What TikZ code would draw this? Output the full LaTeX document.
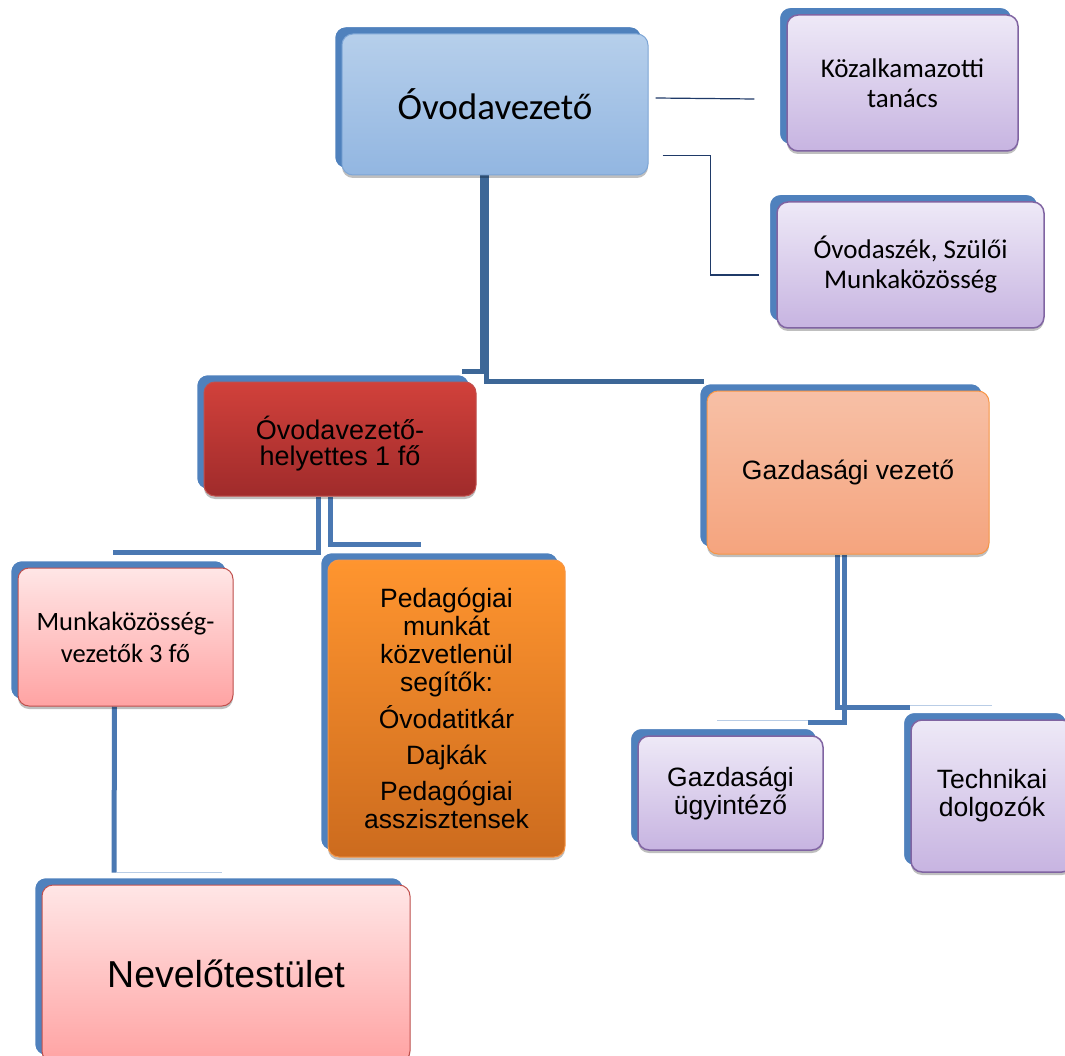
\documentclass[tikz,border=0pt]{standalone}
\usepackage{fontspec}
\setmainfont{Liberation Sans}
\newfontfamily\calfont{Carlito}
\usetikzlibrary{shadows,calc}
\pgfdeclarelayer{back}
\pgfdeclarelayer{mid}
\pgfsetlayers{back,mid,main}
\definecolor{shblue}{HTML}{4F81BD}
\definecolor{conblue}{HTML}{4A78B2}
\definecolor{condark}{HTML}{3D6797}
\definecolor{conlight}{HTML}{B9CDE6}
\definecolor{navy}{HTML}{1F3A68}
\definecolor{c7EA6D6}{HTML}{7EA6D6}
\definecolor{cB6CFEB}{HTML}{B6CFEB}
\definecolor{c92B6E1}{HTML}{92B6E1}
\definecolor{c8064A2}{HTML}{8064A2}
\definecolor{cEEE9F7}{HTML}{EEE9F7}
\definecolor{cC7B4E1}{HTML}{C7B4E1}
\definecolor{cC0504D}{HTML}{C0504D}
\definecolor{cD1413B}{HTML}{D1413B}
\definecolor{cA02B2B}{HTML}{A02B2B}
\definecolor{cF79646}{HTML}{F79646}
\definecolor{cF7C0A6}{HTML}{F7C0A6}
\definecolor{cF5A47E}{HTML}{F5A47E}
\definecolor{cFFE6E6}{HTML}{FFE6E6}
\definecolor{cFFA3A3}{HTML}{FFA3A3}
\definecolor{cFF952F}{HTML}{FF952F}
\definecolor{cCC6B1E}{HTML}{CC6B1E}
\tikzset{
  box/.style={rounded corners=11pt, align=center, inner sep=0pt, text=black,
    font=\fontsize{26.5}{28}\selectfont,
    drop shadow={shadow xshift=0pt, shadow yshift=-3pt, opacity=0.25, fill=black}},
  bluebox/.style={box, draw=c7EA6D6, line width=1pt, top color=cB6CFEB, bottom color=c92B6E1},
  purplebox/.style={box, draw=c8064A2, line width=1.5pt, top color=cEEE9F7, bottom color=cC7B4E1},
  redbox/.style={box, draw=cC0504D, line width=1pt, top color=cD1413B, bottom color=cA02B2B},
  salmonbox/.style={box, draw=cF79646, line width=1pt, top color=cF7C0A6, bottom color=cF5A47E},
  pinkbox/.style={box, draw=cC0504D, line width=1pt, top color=cFFE6E6, bottom color=cFFA3A3},
  orangebox/.style={box, draw=cF79646, line width=1pt, top color=cFF952F, bottom color=cCC6B1E},
  sbox/.style={fill=shblue, draw=white, line width=1.5pt, rounded corners=11pt},
  conn/.style={draw=conblue, line width=5pt},
  conndark/.style={draw=condark, line width=5pt},
  connlight/.style={draw=conlight, line width=1.2pt},
  thinconn/.style={draw=navy, line width=1.2pt},
}
\begin{document}
\begin{tikzpicture}[x=1pt,y=-1pt]
\useasboundingbox (0,0) rectangle (1065,1056);
\begin{pgfonlayer}{back}
\fill[white] (0,0) rectangle (1065,1056);
\end{pgfonlayer}

% front boxes
\node[bluebox, minimum width=306pt, minimum height=141pt, font=\calfont\fontsize{37}{40}\selectfont] (ov) at (495,104.5) {Óvodavezető};
\node[purplebox, minimum width=231pt, minimum height=136pt, font=\calfont\fontsize{27}{30}\selectfont] (kt) at (902.5,83) {Közalkamazotti\\tanács};
\node[purplebox, minimum width=267pt, minimum height=126pt, font=\calfont\fontsize{27}{30}\selectfont] (osz) at (910.5,265) {Óvodaszék, Szülői\\Munkaközösség};
\node[redbox, minimum width=272pt, minimum height=114pt, font=\fontsize{27}{26}\selectfont] (hely) at (340,439) {\rule{0pt}{6pt}\\[-0pt]Óvodavezető-\\helyettes 1 fő};
\node[salmonbox, minimum width=282pt, minimum height=163pt] (gv) at (848,472.5) {Gazdasági vezető};
\node[pinkbox, minimum width=215pt, minimum height=138pt, font=\calfont\fontsize{26.5}{32}\selectfont] (mk) at (125.5,637) {Munkaközösség-\\vezetők 3 fő};
\node[orangebox, minimum width=237pt, minimum height=297pt] (ped) at (446.5,708.5) {Pedagógiai\\munkát\\közvetlenül\\segítők:\\[8pt]Óvodatitkár\\[8pt]Dajkák\\[8pt]Pedagógiai\\asszisztensek};
\node[purplebox, minimum width=185pt, minimum height=114pt] (gu) at (730.5,793) {Gazdasági\\ügyintéző};
\node[purplebox, minimum width=162pt, minimum height=152pt] (td) at (992,796) {Technikai\\dolgozók};
\node[pinkbox, minimum width=368pt, minimum height=177pt, font=\fontsize{37.5}{40}\selectfont] (nt) at (226,973.5) {Nevelőtestület};

% blue offset shadows
\begin{pgfonlayer}{mid}
\foreach \n in {ov,kt,osz,hely,gv,mk,ped,gu,td,nt}{
  \draw[sbox] ($(\n.south west)+(-7,-7)$) rectangle ($(\n.north east)+(-7,-7)$);
}
\end{pgfonlayer}

% connectors
\begin{pgfonlayer}{back}
\draw[conndark] ($(ov.south)+(-13,0)$) |- ($(hely.north east)+(-15,-10)$);
\draw[conndark] ($(ov.south)+(-9,0)$) |- ($(gv.north west)+(-3,-9)$);
\draw[conn] ($(hely.south)+(-22,0)$) |- ($(mk.north)+(-13,-15)$);
\draw[conn] ($(hely.south)+(-10,0)$) |- ($(ped.north)+(-26,-15)$);
\draw[conn] ($(mk.south)+(-11,0)$) -- ($(nt.north west)+(72.5,-12)$) coordinate (mkend);
\draw[connlight] ($(mkend)+(2.5,0)$) -- ($(nt.north west)+(180,-12)$);
\draw[conn] ($(gv.south)+(-11,0)$) |- ($(td.north west)+(0,-12)$) coordinate (g1end);
\draw[connlight] ($(g1end)+(0,-2)$) -- ($(td.north)+(0,-14)$);
\draw[conn] ($(gv.south)+(-4,0)$) |- ($(gu.north east)+(-16,-13)$) coordinate (g2end);
\draw[connlight] ($(g2end)+(0,-2)$) -- ($(gu.north)+(-13.5,-15)$);
\end{pgfonlayer}
\draw[thinconn] ($(ov.east)+(7,-6.5)$) -- ($(kt.west)+(-32,16)$);
\draw[thinconn] ($(ov.south east)+(14,-20)$) -- ++(48,0) |- ($(osz.west)+(-17,10)$);
\end{tikzpicture}
\end{document}
